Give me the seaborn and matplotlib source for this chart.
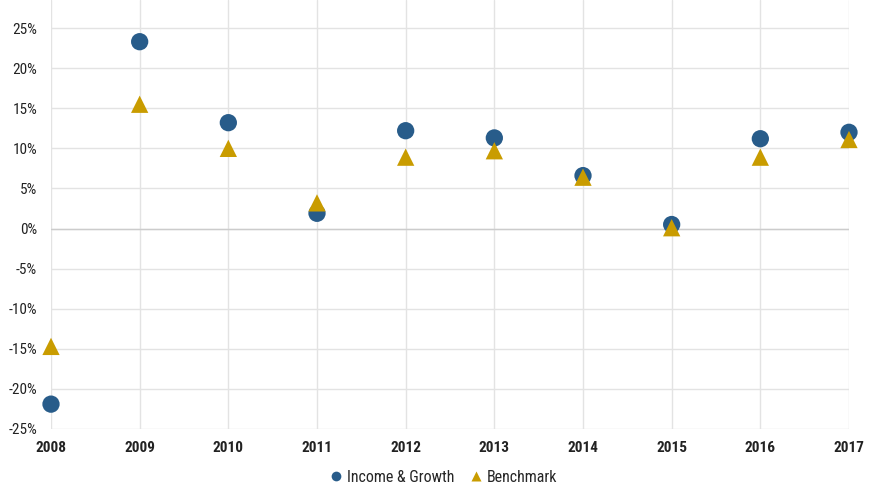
"""
Income & Growth vs Benchmark annual returns, 2008-2017.
"""

import matplotlib
matplotlib.use('Agg')
import matplotlib.pyplot as plt
from matplotlib.ticker import FuncFormatter
from matplotlib import font_manager
import seaborn as sns
import pandas as pd

# Data
years = [2008, 2009, 2010, 2011, 2012, 2013, 2014, 2015, 2016, 2017]
income_growth = [-21.9, 23.3, 13.2, 1.9, 12.2, 11.3, 6.6, 0.5, 11.2, 12.0]
benchmark = [-14.7, 15.5, 10.0, 3.2, 8.9, 9.7, 6.4, 0.1, 8.9, 11.1]
series_names = ['Income & Growth', 'Benchmark']
y_ticks = [-25, -20, -15, -10, -5, 0, 5, 10, 15, 20, 25]

colors = {'Income & Growth': '#285c8a', 'Benchmark': '#c99c00'}
markers = {'Income & Growth': 'o', 'Benchmark': '^'}

df = pd.concat([
    pd.DataFrame({'Year': years, 'Return': income_growth, 'Series': series_names[0]}),
    pd.DataFrame({'Year': years, 'Return': benchmark, 'Series': series_names[1]}),
])

sns.set_style('white')
# pick a narrow face if one is around, else Roboto
installed = {f.name for f in font_manager.fontManager.ttflist}
family = 'Roboto'
for cand in ['Roboto Condensed', 'Liberation Sans Narrow']:
    if cand in installed:
        family = cand
        break
plt.rcParams['font.family'] = [family, 'DejaVu Sans']
fsize = 11 if family != 'Roboto' else 10

fig = plt.figure(figsize=(8.75, 4.87), dpi=100)
ax = fig.add_axes([51 / 875, 1 - 429 / 487, 798 / 875, 429 / 487])

sns.scatterplot(data=df, x='Year', y='Return', hue='Series', style='Series',
                palette=colors, markers=markers, s=155, edgecolor='none',
                hue_order=series_names, style_order=series_names,
                ax=ax, clip_on=False, zorder=3)

ax.set_xlim(2008, 2017)
ax.set_ylim(-25, 28.5)
ax.set_xticks(years)
ax.set_yticks(y_ticks)
ax.yaxis.set_major_formatter(FuncFormatter(lambda v, _: f'{v:.0f}%'))
ax.set_xlabel('')
ax.set_ylabel('')

ax.grid(True, color='#e3e3e3', linewidth=1)
ax.axhline(0, color='#cccccc', linewidth=1, zorder=1)
for s in ax.spines.values():
    s.set_visible(False)
ax.tick_params(length=0, labelsize=fsize, colors='#222222')
ax.tick_params(axis='y', pad=10)
ax.tick_params(axis='x', pad=9)
for lbl in ax.get_xticklabels():
    lbl.set_fontweight('bold')

handles, labels = ax.get_legend_handles_labels()
for h in handles:
    h.set_markersize(7)
ax.legend(handles, labels, loc='lower center', bbox_to_anchor=(0.49, -0.145),
          ncol=2, frameon=False, fontsize=fsize + 0.5, handletextpad=0.05,
          handlelength=1.2, columnspacing=0.8, borderaxespad=0)

fig.savefig('out.png', dpi=100)
plt.close(fig)
